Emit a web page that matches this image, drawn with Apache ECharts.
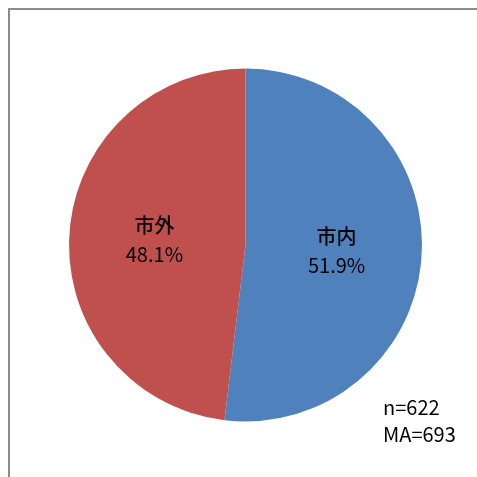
<!DOCTYPE html>
<html><head><meta charset="utf-8">
<script src="https://cdn.jsdelivr.net/npm/echarts@6/dist/echarts.min.js"></script>
<style>html,body{margin:0;padding:0;background:#fff}#c{width:477px;height:477px}</style>
</head><body><div id="c"></div>
<script>
const categories = ['市内', '市外'];
const values = [51.9, 48.1];
const colors = ['#4F81BD', '#C0504D'];
const noteLines = ['n=622', 'MA=693'];

const chart = echarts.init(document.getElementById('c'), null, {renderer: 'canvas'});
const font = '"Noto Sans CJK JP", "Open Sans", sans-serif';
chart.setOption({
  animation: false,
  backgroundColor: '#fff',
  graphic: [
    {type: 'polyline', shape: {points: [[9, 477], [9, 9], [477, 9]]},
     style: {stroke: '#8c8c8c', lineWidth: 2, fill: null}},
    {type: 'text', left: 383, top: 394,
     style: {text: noteLines.join('\n'), font: '20px ' + font, fill: '#000', lineHeight: 27}}
  ],
  series: [{
    type: 'pie',
    center: [245.5, 245],
    radius: [0, 176.5],
    startAngle: 90,
    clockwise: true,
    label: {
      show: true, position: 'inside',
      formatter: p => '{n|' + p.name + '}\n{v|' + p.value.toFixed(1) + '%}',
      rich: {
        n: {fontSize: 20, fontFamily: font, color: '#000', fontWeight: 500, lineHeight: 30},
        v: {fontSize: 20, fontFamily: font, color: '#000', lineHeight: 28}
      }
    },
    labelLine: {show: false},
    itemStyle: {borderWidth: 0},
    emphasis: {disabled: true},
    data: categories.map((c, i) => ({name: c, value: values[i], itemStyle: {color: colors[i]}}))
  }]
});
</script></body></html>
